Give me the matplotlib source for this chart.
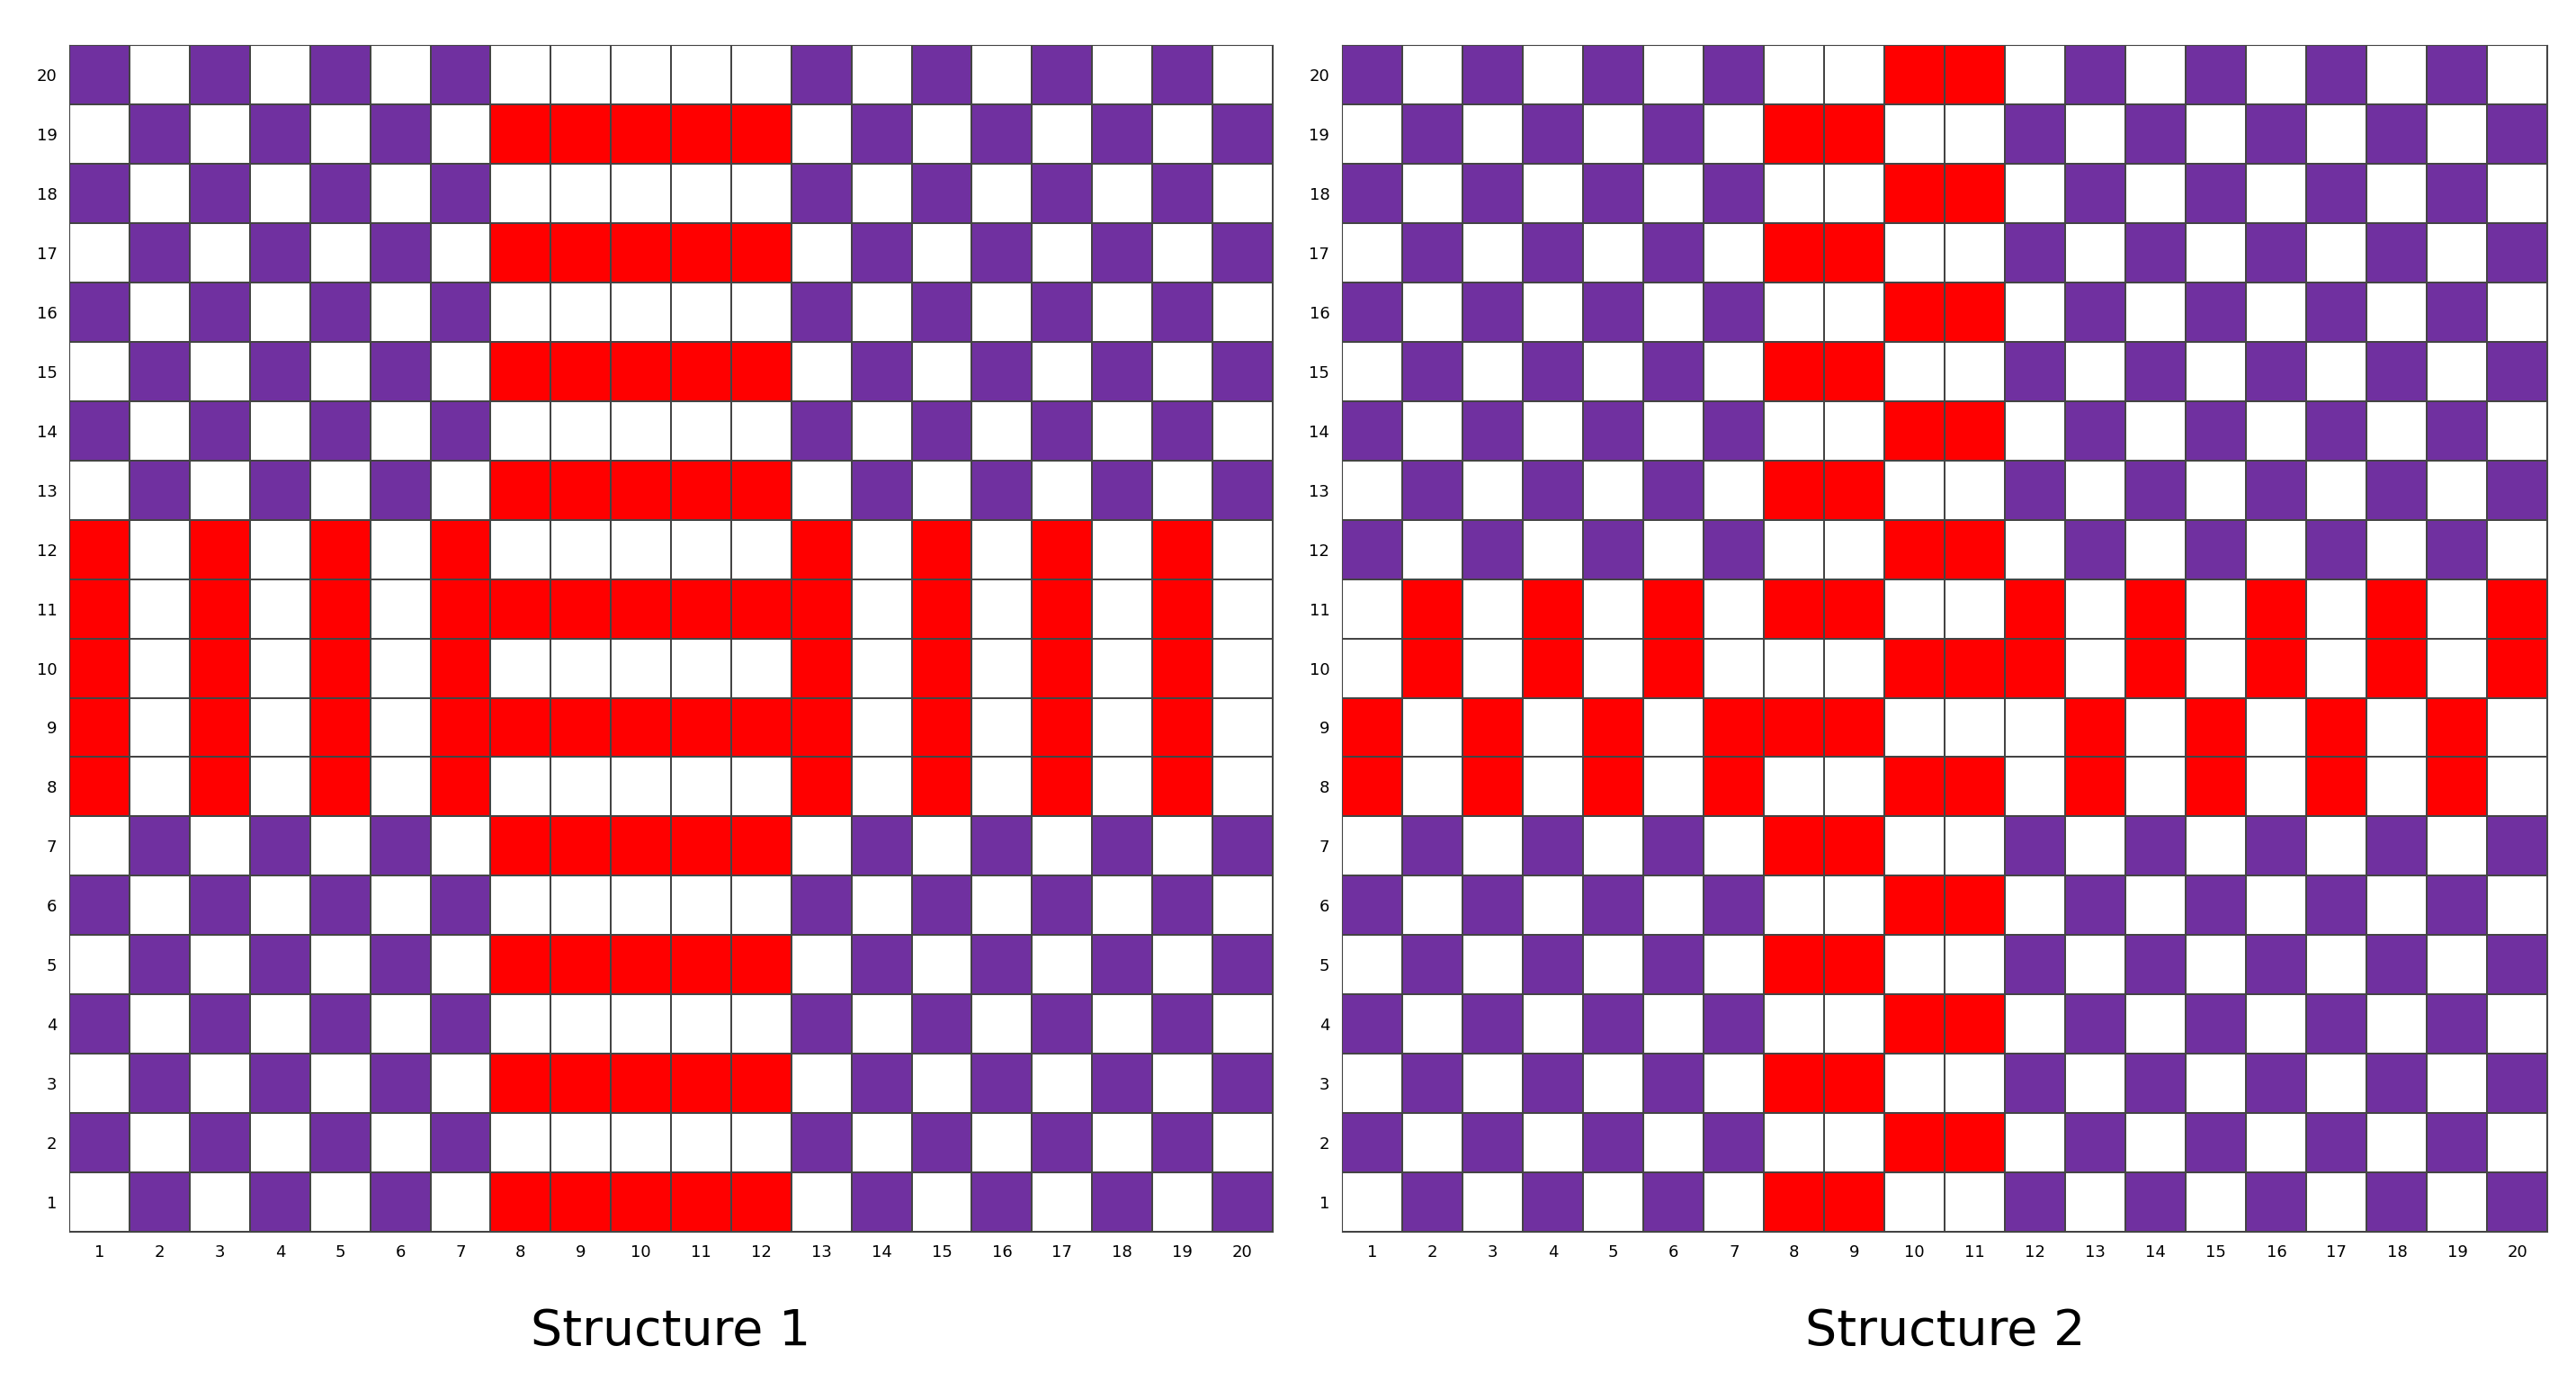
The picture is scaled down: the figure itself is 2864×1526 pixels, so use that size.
import numpy as np
import matplotlib.pyplot as plt
from matplotlib.colors import ListedColormap

# P = purple, W = white, R = red ; rows listed from row 20 (top) down to row 1
EVEN_1 = "PWPWPWP" + "WWWWW" + "PWPWPWPW"
ODD_1 = "WPWPWPW" + "RRRRR" + "WPWPWPWP"
MID_E1 = "RWRWRWR" + "WWWWW" + "RWRWRWRW"
MID_O1 = "RWRWRWR" + "RRRRR" + "RWRWRWRW"
STRUCT_1 = [EVEN_1, ODD_1, EVEN_1, ODD_1, EVEN_1, ODD_1, EVEN_1, ODD_1,
            MID_E1, MID_O1, MID_E1, MID_O1, MID_E1,
            ODD_1, EVEN_1, ODD_1, EVEN_1, ODD_1, EVEN_1, ODD_1]

EVEN_2 = "PWPWPWP" + "WW" + "RR" + "WPWPWPWPW"
ODD_2 = "WPWPWPW" + "RR" + "WW" + "PWPWPWPWP"
STRUCT_2 = [EVEN_2, ODD_2, EVEN_2, ODD_2, EVEN_2, ODD_2, EVEN_2, ODD_2, EVEN_2,
            "WRWRWRW" + "RR" + "WW" + "RWRWRWRWR",
            "WRWRWRW" + "WW" + "RR" + "RWRWRWRWR",
            "RWRWRWR" + "RR" + "WW" + "WRWRWRWRW",
            "RWRWRWR" + "WW" + "RR" + "WRWRWRWRW",
            ODD_2, EVEN_2, ODD_2, EVEN_2, ODD_2, EVEN_2, ODD_2]

TITLES = ["Structure 1", "Structure 2"]
CODES = {"W": 0, "P": 1, "R": 2}
cmap = ListedColormap(["#FFFFFF", "#7030A0", "#FF0000"])

fig = plt.figure(figsize=(28.64, 15.26), dpi=100)
axes = [fig.add_axes([0.027, 0.103, 0.467, 0.864]),
        fig.add_axes([0.521, 0.103, 0.468, 0.864])]

for ax, grid, title in zip(axes, [STRUCT_1, STRUCT_2], TITLES):
    z = np.array([[CODES[ch] for ch in row] for row in grid[::-1]])
    edges = np.arange(0.5, 21.5, 1)
    ax.pcolormesh(edges, edges, z, cmap=cmap, vmin=0, vmax=2,
                  edgecolors="#444444", linewidth=1.2)
    ax.set_xlim(0.5, 20.5)
    ax.set_ylim(0.5, 20.5)
    ax.set_xticks(range(1, 21))
    ax.set_yticks(range(1, 21))
    ax.tick_params(length=0, labelsize=13, pad=10)
    for s in ax.spines.values():
        s.set_color("#444444")
    fig.text((ax.get_position().x0 + ax.get_position().x1) / 2, 0.03, title,
             ha="center", va="center", fontsize=40)

fig.savefig("out.png", dpi=100)
